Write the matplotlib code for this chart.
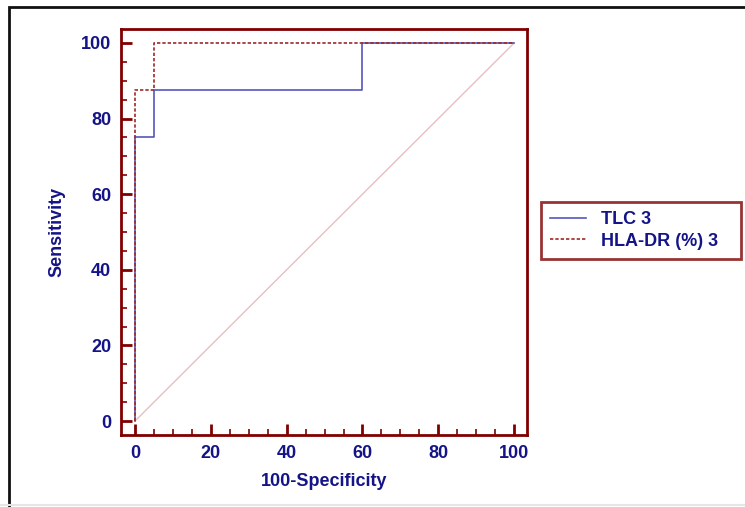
import matplotlib.pyplot as plt
from matplotlib.patches import Rectangle
from matplotlib.ticker import MultipleLocator

# ROC step curves (100-Specificity, Sensitivity)
tlc_x = [0, 0, 5, 5, 60, 60, 100]
tlc_y = [0, 75, 75, 87.5, 87.5, 100, 100]
hla_x = [0, 0, 5, 5, 100]
hla_y = [0, 87.5, 87.5, 100, 100]
ticks = [0, 20, 40, 60, 80, 100]
labels = ['TLC 3', 'HLA-DR (%) 3']

navy = '#141488'
frame = '#800000'
plt.rcParams['font.family'] = ['Liberation Sans', 'DejaVu Sans']

fig = plt.figure(figsize=(7.45, 5.07), dpi=100)
# outer border of the original screenshot
fig.patches.append(Rectangle((9/745, -0.1), 1.2, 1.1 - 7/507, transform=fig.transFigure,
                             fill=False, edgecolor='#111111', lw=2))
fig.add_artist(plt.Line2D([0, 1], [2/507, 2/507], transform=fig.transFigure,
                          color='#e6e6e6', lw=1.5))
ax = fig.add_axes([121/745, 1 - 435/507, 406/745, 406/507])

ax.plot([0, 100], [0, 100], color='#e6c0c0', lw=1)
l1, = ax.plot(tlc_x, tlc_y, color='#5555bb', lw=1.2)
l2, = ax.plot(hla_x, hla_y, color='#a02828', lw=1.2, ls=(0, (2, 1.2)))

ax.set_xlim(-3.7, 103.4)
ax.set_ylim(-3.7, 103.7)
ax.set_xticks(ticks)
ax.set_yticks(ticks)
ax.xaxis.set_minor_locator(MultipleLocator(5))
ax.yaxis.set_minor_locator(MultipleLocator(5))
ax.tick_params(which='major', direction='in', length=8, width=2, color=frame,
               labelsize=13, labelcolor=navy, pad=7)
ax.tick_params(which='minor', direction='in', length=4, width=1.2, color=frame)
for lab in ax.get_xticklabels() + ax.get_yticklabels():
    lab.set_fontweight('bold')
for s in ax.spines.values():
    s.set_color(frame)
    s.set_linewidth(2)

ax.set_xlabel('100-Specificity', fontsize=13, fontweight='bold', color=navy, labelpad=8)
ax.set_ylabel('Sensitivity', fontsize=13, fontweight='bold', color=navy, labelpad=11)

leg = fig.legend([l1, l2], labels, loc='upper left', mode='expand',
                 bbox_to_anchor=(541/745, 1 - 260/507, 200/745, 58/507),
                 frameon=True, fancybox=False,
                 prop={'size': 13, 'weight': 'bold'}, handlelength=2.0, borderpad=0.5,
                 labelspacing=0.25, handletextpad=0.8, borderaxespad=0)
leg.get_frame().set_edgecolor(frame)
leg.get_frame().set_linewidth(2)
for t in leg.get_texts():
    t.set_color(navy)

fig.savefig('out.png', dpi=100)
